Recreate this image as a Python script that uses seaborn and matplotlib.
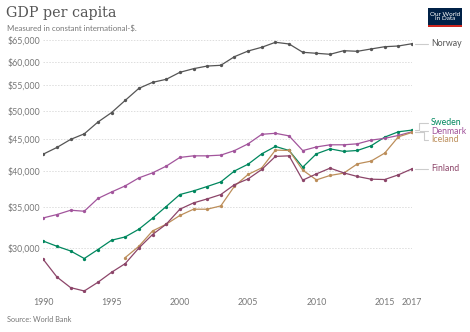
import numpy as np
import pandas as pd
import matplotlib
matplotlib.use("Agg")
import matplotlib.pyplot as plt
import seaborn as sns
from matplotlib.ticker import FixedLocator, FixedFormatter, NullLocator
from matplotlib.lines import Line2D
from matplotlib.patches import Rectangle
from matplotlib.transforms import IdentityTransform

# ---------------- data ----------------
years = list(range(1990, 2018))
norway = [42550, 43620, 44940, 45880, 47930, 49650, 51950, 54320, 55540, 56170,
          57650, 58430, 59010, 59170, 61100, 62400, 63270, 64450, 64050, 62100,
          61870, 61640, 62470, 62330, 62870, 63400, 63570, 64110]
denmark = [33580, 34000, 34550, 34420, 36090, 36970, 37820, 38960, 39690, 40690,
           42030, 42280, 42280, 42390, 43110, 44210, 45800, 45970, 45530, 43110,
           43700, 44050, 44050, 44210, 44820, 45120, 45600, 46230]
sweden = [30810, 30220, 29700, 28880, 29860, 30910, 31290, 32200, 33540, 35030,
          36620, 37120, 37730, 38380, 39970, 40990, 42600, 43780, 43130, 40540,
          42600, 43390, 42980, 43130, 43880, 45320, 46230, 46520]
finland = [28780, 26960, 25920, 25600, 26440, 27440, 28340, 30030, 31570, 32800,
           34680, 35500, 36030, 36620, 37990, 38810, 40200, 42190, 42280, 38630,
           39540, 40390, 39690, 39160, 38770, 38720, 39400, 40290]
iceland_years = list(range(1996, 2018))
iceland = [28980, 30220, 31990, 32800, 33880, 34680, 34680, 35110, 37780, 39460,
           40440, 43190, 43130, 40090, 38670, 39310, 39650, 41040, 41460, 42710,
           45370, 46120]

countries = ["Norway", "Sweden", "Denmark", "Iceland", "Finland"]
colors = {"Norway": "#555555", "Sweden": "#00875E", "Denmark": "#A2559C",
          "Iceland": "#BC8E5A", "Finland": "#8C4569"}

ytick_vals = [30000, 35000, 40000, 45000, 50000, 55000, 60000, 65000]
ytick_labels = ["$30,000", "$35,000", "$40,000", "$45,000", "$50,000",
                "$55,000", "$60,000", "$65,000"]
xtick_vals = [1990, 1995, 2000, 2005, 2010, 2015, 2017]

title = "GDP per capita"
subtitle = "Measured in constant international-$."
source = "Source: World Bank"

frames = [
    pd.DataFrame({"year": years, "gdp": norway, "country": "Norway"}),
    pd.DataFrame({"year": years, "gdp": sweden, "country": "Sweden"}),
    pd.DataFrame({"year": years, "gdp": denmark, "country": "Denmark"}),
    pd.DataFrame({"year": iceland_years, "gdp": iceland, "country": "Iceland"}),
    pd.DataFrame({"year": years, "gdp": finland, "country": "Finland"}),
]
df = pd.concat(frames, ignore_index=True)

# ---------------- figure ----------------
sns.set_style("white")
plt.rcParams["font.family"] = ["Lato", "DejaVu Sans"]

W, H = 470, 332
fig = plt.figure(figsize=(W / 100, H / 100), dpi=100)
left_px, right_px, top_px, bottom_px = 43.3, 412, 40, 291.5
ax = fig.add_axes([left_px / W, 1 - bottom_px / H,
                   (right_px - left_px) / W, (bottom_px - top_px) / H])

ax.set_yscale("log")
for c in countries:
    sub = df[df["country"] == c]
    sns.lineplot(data=sub, x="year", y="gdp", ax=ax, color=colors[c],
                 linewidth=0.9, marker="o", markersize=2.4,
                 markeredgewidth=0, legend=False, zorder=3)

ax.set_xlim(1990, 2017)
ax.set_ylim(25550, 65000)
ax.yaxis.set_major_locator(FixedLocator(ytick_vals))
ax.yaxis.set_major_formatter(FixedFormatter(ytick_labels))
ax.yaxis.set_minor_locator(NullLocator())
ax.set_xticks(xtick_vals)
ax.set_xticklabels([str(v) for v in xtick_vals])
ax.set_xlabel("")
ax.set_ylabel("")
for s in ax.spines.values():
    s.set_visible(False)
ax.tick_params(axis="y", length=0, pad=2, labelsize=6.3, labelcolor="#777777")
ax.tick_params(axis="x", length=3, width=0.6, color="#dddddd", pad=2,
               labelsize=6.3, labelcolor="#777777")
ax.grid(axis="y", color="#dddddd", linewidth=0.7, linestyle=(0, (1.5, 1.5)))
ax.grid(axis="x", visible=False)
ax.set_axisbelow(True)

# ---------------- end labels ----------------
fig.canvas.draw()
ends = {}
for c in countries:
    sub = df[df["country"] == c]
    last = sub.iloc[-1]
    ends[c] = ax.transData.transform((last["year"], last["gdp"]))
order = sorted(countries, key=lambda c: -ends[c][1])
gap = 8.5
placed = [ends[c][1] for c in order]
for i in range(1, len(placed)):
    if placed[i - 1] - placed[i] < gap:
        placed[i] = placed[i - 1] - gap
lab_y = {c: placed[i] for i, c in enumerate(order)}
cluster = ["Sweden", "Denmark", "Iceland"]
m_true = np.mean([ends[c][1] for c in cluster])
m_lab = np.mean([lab_y[c] for c in cluster])
for c in cluster:
    lab_y[c] += (m_true - m_lab)

x0 = right_px + 3
x_lab = 431
xm = {"Norway": 420, "Sweden": 419, "Denmark": 420, "Iceland": 424, "Finland": 420}
for c in countries:
    ey = ends[c][1]
    ly = lab_y[c]
    xs = [x0, xm[c], xm[c], x_lab - 3]
    yy = [ey, ey, ly, ly]
    fig.add_artist(Line2D(xs, yy, transform=IdentityTransform(),
                          color="#cccccc", linewidth=0.8))
    fig.text(x_lab / W, ly / H, c, color=colors[c], fontsize=6.3,
             va="center", ha="left")

# ---------------- titles ----------------
fig.text(6 / W, 1 - 13 / H, title, family="DejaVu Serif", fontsize=10.3,
         color="#555555", va="center", ha="left")
fig.text(7 / W, 1 - 28 / H, subtitle, fontsize=5.7, color="#777777",
         va="center", ha="left")
fig.text(7 / W, 1 - 319 / H, source, fontsize=5.3, color="#777777",
         va="center", ha="left")

# ---------------- logo ----------------
lx0, ly0, lx1, ly1 = 428, 8, 462, 27
fig.add_artist(Rectangle((lx0 / W, 1 - ly1 / H), (lx1 - lx0) / W, (ly1 - ly0) / H,
                         transform=fig.transFigure, facecolor="#002147",
                         edgecolor="none"))
fig.add_artist(Rectangle((lx0 / W, 1 - ly1 / H), (lx1 - lx0) / W, 1.6 / H,
                         transform=fig.transFigure, facecolor="#ce261e",
                         edgecolor="none"))
fig.text((lx0 + lx1) / 2 / W, 1 - 16.5 / H, "Our World\nin Data", color="white",
         fontsize=4.6, ha="center", va="center", linespacing=1.0)

fig.savefig("out.png", dpi=100)
